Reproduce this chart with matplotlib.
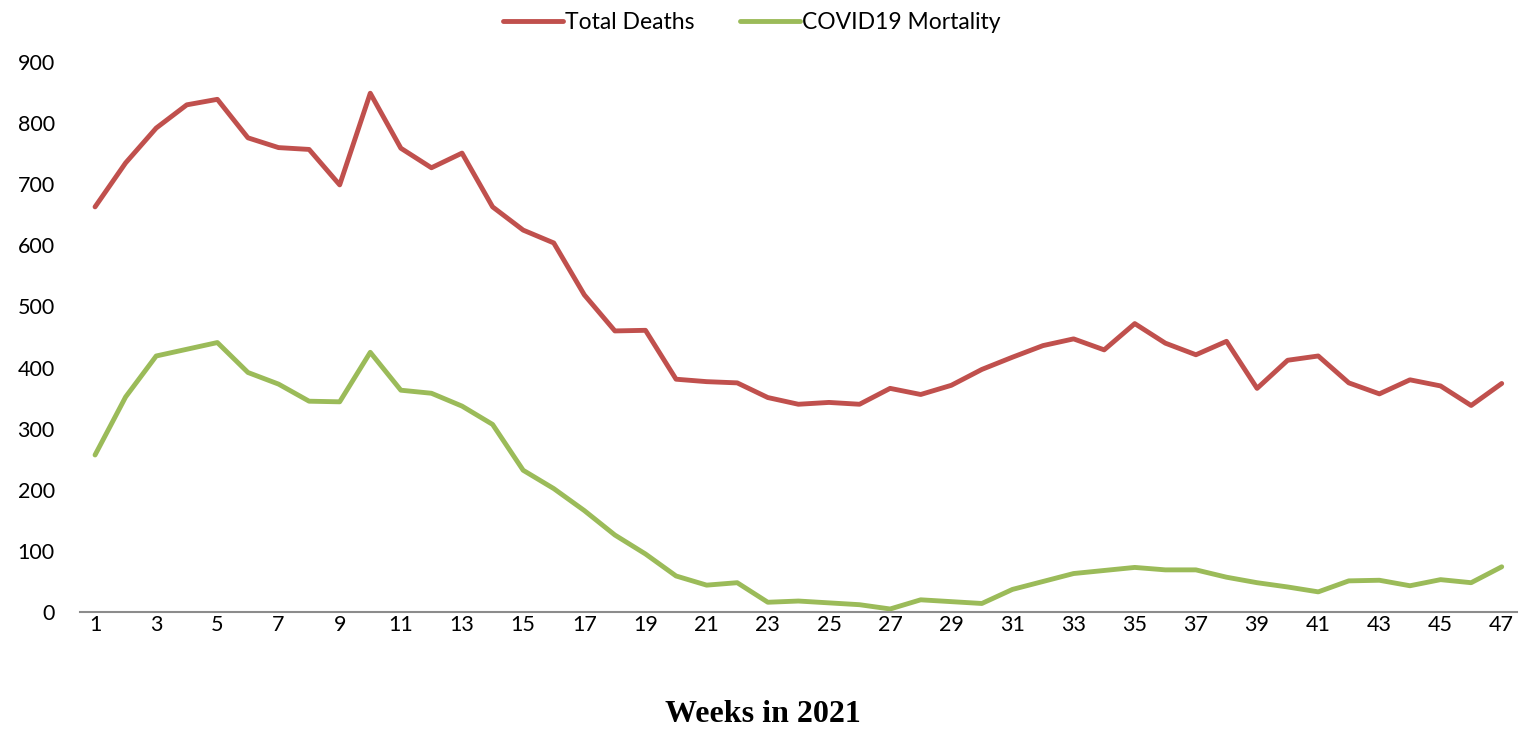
import matplotlib
matplotlib.use("Agg")
import matplotlib.pyplot as plt

# weekly values
weeks = list(range(1, 48))
total_deaths = [663, 735, 792, 830, 839, 776, 760, 757, 699, 849,
                759, 727, 751, 663, 625, 604, 519, 460, 461, 381,
                377, 375, 351, 340, 343, 340, 366, 356, 371, 397,
                417, 436, 447, 429, 472, 440, 421, 443, 366, 412,
                419, 375, 357, 380, 370, 338, 374]
covid_mortality = [257, 352, 419, 430, 441, 392, 373, 345, 344, 425,
                   363, 358, 337, 307, 232, 202, 166, 126, 95, 59,
                   44, 48, 16, 18, 15, 12, 5, 20, 17, 14,
                   37, 50, 63, 68, 73, 69, 69, 57, 48, 41,
                   33, 51, 52, 43, 53, 48, 74]
xtick_labels = [str(w) for w in weeks[::2]]

plt.rcParams["font.family"] = ["Lato", "DejaVu Sans"]

fig = plt.figure(figsize=(15.28, 7.30), dpi=100)
ax = fig.add_axes([0.0522, 0.1616, 0.9406, 0.7534])

ax.plot(weeks, total_deaths, color="#C0504D", lw=3.5, label="Total Deaths",
        solid_joinstyle="round", solid_capstyle="round")
ax.plot(weeks, covid_mortality, color="#9BBB59", lw=3.5, label="COVID19 Mortality",
        solid_joinstyle="round", solid_capstyle="round")

ax.set_xlim(0.5, 47.5)
ax.set_ylim(0, 900)
ax.set_yticks(range(0, 901, 100))
ax.set_xticks(weeks[::2])
ax.set_xticklabels(xtick_labels)
ax.tick_params(axis="both", length=0, labelsize=15.5)
ax.tick_params(axis="x", pad=2)
ax.tick_params(axis="y", pad=18)

for s in ["top", "right", "left"]:
    ax.spines[s].set_visible(False)
ax.spines["bottom"].set_color("#8c8c8c")
ax.spines["bottom"].set_linewidth(1.5)

fig.text(0.499, 0.021, "Weeks in 2021", ha="center", va="center",
         fontsize=23, fontweight="bold", family="Liberation Serif")

fig.legend(loc="upper center", bbox_to_anchor=(0.492, 1.012), ncol=2, frameon=False,
           fontsize=16.5, handlelength=2.6, columnspacing=2.0, handletextpad=0.1)

fig.savefig("out.png", dpi=100)
